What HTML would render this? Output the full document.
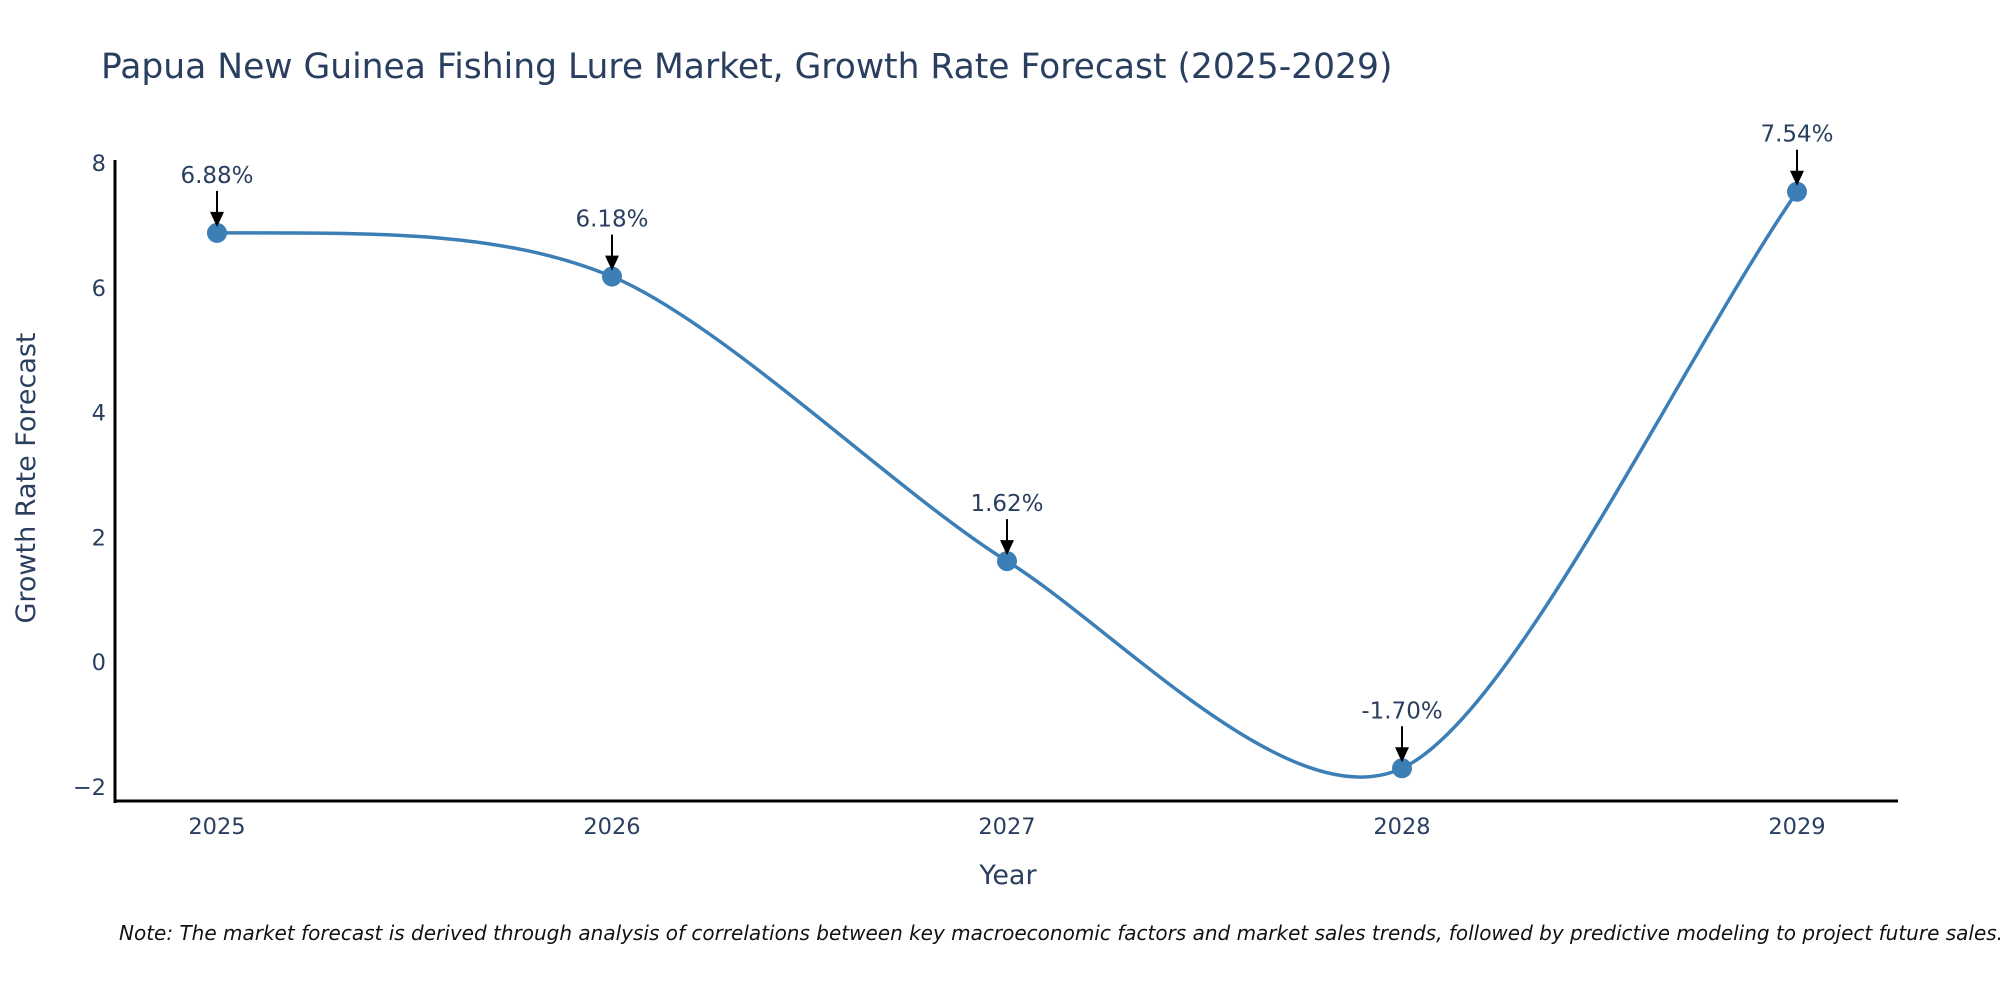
<!DOCTYPE html>
<html><head><meta charset="utf-8"><style>
body{margin:0;background:#fff;}
svg{display:block;font-family:"DejaVu Sans","Liberation Sans",sans-serif;}
</style></head><body>
<svg id="chart" width="2000" height="1000" viewBox="0 0 2000 1000">
<text x="101" y="78" font-size="34.5" fill="#2a3f5f">Papua New Guinea Fishing Lure Market, Growth Rate Forecast (2025-2029)</text>
<g id="plot"></g>
<text x="1008" y="884" font-size="27" fill="#2a3f5f" text-anchor="middle">Year</text>
<text transform="translate(35,478) rotate(-90)" font-size="27" fill="#2a3f5f" text-anchor="middle">Growth Rate Forecast</text>
<text x="119" y="940" font-size="20" font-style="italic" fill="#111">Note: The market forecast is derived through analysis of correlations between key macroeconomic factors and market sales trends, followed by predictive modeling to project future sales.</text>
</svg>
<script>
const years = [2025, 2026, 2027, 2028, 2029];
const values = [6.88, 6.18, 1.62, -1.70, 7.54];
const labels = ["6.88%", "6.18%", "1.62%", "-1.70%", "7.54%"];
const yTicks = [-2, 0, 2, 4, 6, 8];

const NS = "http://www.w3.org/2000/svg";
const g = document.getElementById("plot");
const xs = y => 217 + (y - 2025) * 395;
const ys = v => 163 + (8 - v) * 62.4;
function el(t, a){const e=document.createElementNS(NS,t);for(const k in a)e.setAttribute(k,a[k]);g.appendChild(e);return e;}

yTicks.forEach(t=>{
  const e=el("text",{x:106,y:ys(t)+8,"font-size":22.5,fill:"#2a3f5f","text-anchor":"end"});
  e.textContent=t<0?"\u2212"+Math.abs(t):String(t);
  
  
});
years.forEach(y=>{
  const e=el("text",{x:xs(y),y:834,"font-size":22.5,fill:"#2a3f5f","text-anchor":"middle"});
  e.textContent=y;
  
  
});
const ya=el("line",{x1:115,y1:160,x2:115,y2:803,stroke:"#000","stroke-width":3});


const xa=el("line",{x1:114,y1:801,x2:1898,y2:801,stroke:"#000","stroke-width":3});



const P=years.map((y,i)=>[xs(y),ys(values[i])]);
let d=`M${P[0][0]},${P[0][1]}`;
const s=0.14;
for(let i=0;i<P.length-1;i++){
  const p0=P[Math.max(i-1,0)],p1=P[i],p2=P[i+1],p3=P[Math.min(i+2,P.length-1)];
  let c1=[p1[0]+(p2[0]-p0[0])*s,p1[1]+(p2[1]-p0[1])*s];
  let c2=[p2[0]-(p3[0]-p1[0])*s,p2[1]-(p3[1]-p1[1])*s];
  if(i===0)c1=[p1[0]+(p2[0]-p1[0])*0.4,p1[1]];
  if(i===P.length-2)c2=[p2[0]-(p2[0]-p1[0])*0.3,p2[1]+(p1[1]-p2[1])*0.3];
  d+=` C${c1[0]},${c1[1]} ${c2[0]},${c2[1]} ${p2[0]},${p2[1]}`;
}
const line=el("path",{d:d,fill:"none",stroke:"#3b7fb6","stroke-width":3.5});



P.forEach((p,i)=>{
  const c=el("circle",{cx:p[0],cy:p[1],r:10,fill:"#3b7fb6"});
  
  
  const a=el("line",{x1:p[0],y1:p[1]-42,x2:p[0],y2:p[1]-20,stroke:"#000","stroke-width":2});
  
  
  const h=el("polygon",{points:`${p[0]-7},${p[1]-21} ${p[0]+7},${p[1]-21} ${p[0]},${p[1]-6}`,fill:"#000"});
  
  
  const t=el("text",{x:p[0],y:p[1]-50,"font-size":23,fill:"#2a3f5f","text-anchor":"middle"});
  t.textContent=labels[i];
  
  
});
</script>
</body></html>
